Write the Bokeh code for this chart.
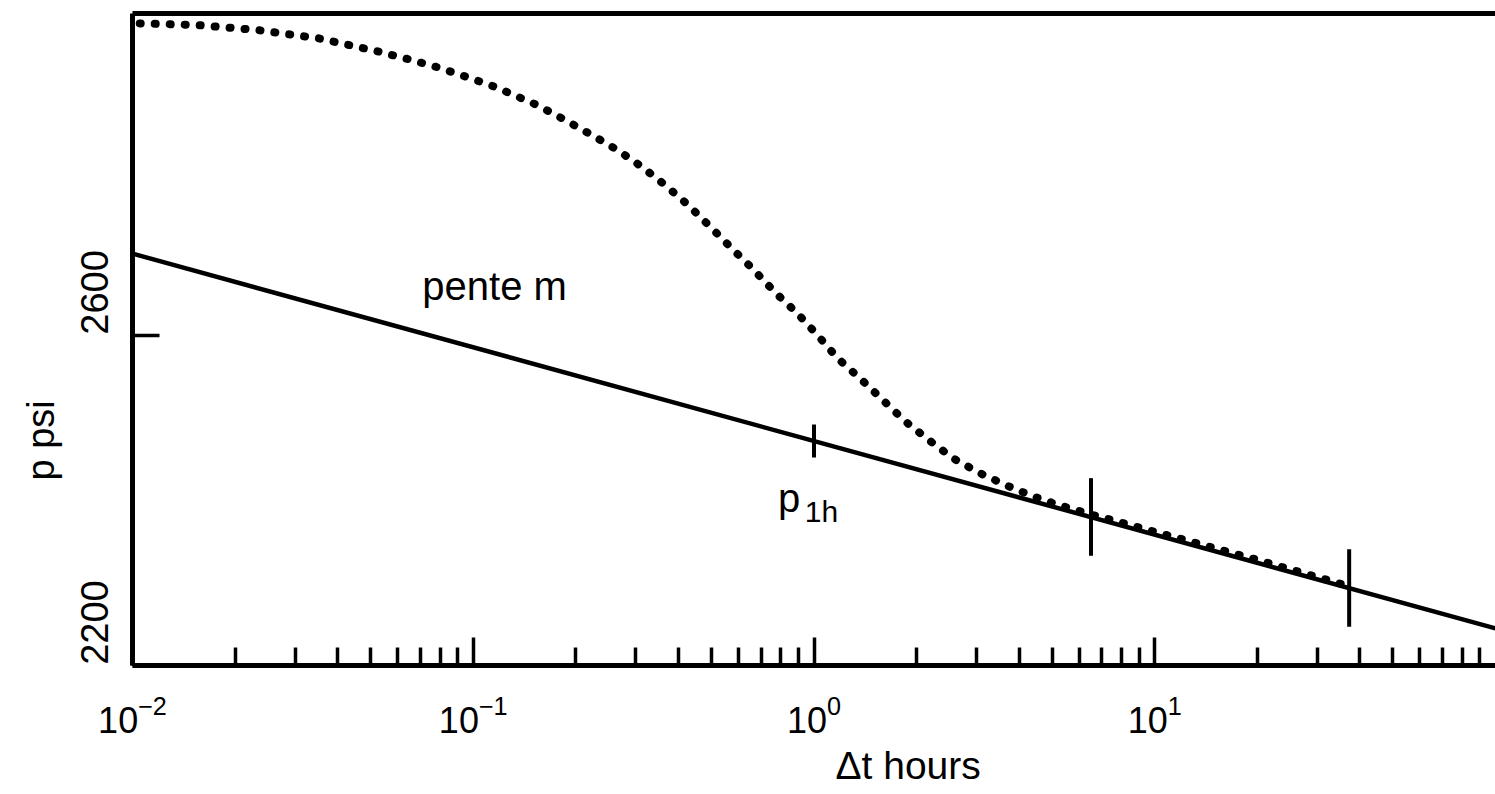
from bokeh.plotting import figure
from bokeh.models import FixedTicker, LogAxis, LinearAxis, Label, Title, Range1d
from bokeh.embed import file_html
from bokeh.resources import INLINE

# ---- data ----
curve_t = [0.0105, 0.0155, 0.0190, 0.0233, 0.0285, 0.0351, 0.0430, 0.0526, 0.0640,
           0.0783, 0.0959, 0.116, 0.154, 0.184, 0.220, 0.264, 0.313, 0.366, 0.427,
           0.495, 0.575, 0.663, 0.769, 0.892, 1.02, 1.175, 1.364, 1.58, 1.85, 2.16,
           2.56, 3.07, 3.68, 4.39, 5.26, 6.5, 10, 15, 20, 30, 38]
curve_p = [2978, 2976, 2973, 2970, 2965, 2960, 2952, 2944, 2935,
           2925, 2913, 2901, 2879, 2862, 2844, 2825, 2804, 2782, 2758,
           2732, 2705, 2680, 2652, 2627, 2601, 2572, 2548, 2523, 2496, 2474,
           2451, 2433, 2418, 2405, 2394, 2383, 2362, 2342, 2328, 2307, 2295]

line_t = [0.01, 100]
line_p = [2699, 2245]

mark_t = [1.0, 6.5, 37.2]
mark_p = [2472, 2380, 2294]
mark_half = [20, 47, 47]

x_major = [0.01, 0.1, 1, 10]
x_minor_mult = [2, 3, 4, 5, 6, 7, 8, 9]
y_ticks = [2200, 2600]

FONT = "Liberation Sans"

x_minor = [m * d for d in x_major for m in x_minor_mult]
mark_lo = [p - h for p, h in zip(mark_p, mark_half)]
mark_hi = [p + h for p, h in zip(mark_p, mark_half)]

Y0, Y1 = 2200, 2990
p = figure(width=1495, height=794, x_axis_type="log",
           x_range=(0.01, 100), y_range=(Y0, Y1),
           output_backend="svg", toolbar_location=None,
           min_border_left=132, min_border_right=0,
           min_border_top=13, min_border_bottom=129)
p.grid.visible = False
p.outline_line_color = None
p.background_fill_color = "white"
p.border_fill_color = "white"

# bottom axis
xa = p.xaxis[0]
xa.ticker = FixedTicker(ticks=x_major, minor_ticks=x_minor)
xa.axis_line_width = 5
xa.major_tick_in = 28
xa.major_tick_out = 0
xa.minor_tick_in = 18
xa.minor_tick_out = 0
xa.major_tick_line_width = 3.5
xa.minor_tick_line_width = 3.5
xa.major_label_text_font = FONT
xa.major_label_text_font_size = "36px"
xa.major_label_text_color = "black"
xa.major_label_standoff = 29

# left axis (line + tick)
ya = p.yaxis[0]
ya.ticker = FixedTicker(ticks=y_ticks, minor_ticks=[])
ya.axis_line_width = 5
ya.major_tick_in = 27
ya.major_tick_out = 0
ya.major_tick_line_width = 3.5
ya.minor_tick_line_color = None
ya.major_label_overrides = {t: "" for t in y_ticks}
ya.major_label_text_font_size = "1px"
ya.major_label_standoff = 0

# tick labels of the y axis, drawn (as in the original) just above their ticks
SHIFT = 52
p.extra_y_ranges = {"lbl": Range1d(start=Y0 - SHIFT, end=Y1 - SHIFT)}
ylab = LinearAxis(y_range_name="lbl", ticker=FixedTicker(ticks=y_ticks, minor_ticks=[]),
                  axis_line_color=None, major_tick_line_color=None,
                  minor_tick_line_color=None, major_label_orientation="vertical",
                  major_label_text_font=FONT, major_label_text_font_size="38px",
                  major_label_text_color="black", major_label_standoff=18)
p.add_layout(ylab, "left")

# y title
p.add_layout(Title(text="p psi", align="left", offset=185, text_font=FONT,
                   text_font_size="38px", text_font_style="normal",
                   text_color="black", standoff=34), "left")

# x title
p.add_layout(Title(text="\u0394t hours", align="left", offset=703, text_font=FONT,
                   text_font_size="39px", text_font_style="normal",
                   text_color="black", standoff=12), "below")

# top border line
top = LogAxis(ticker=FixedTicker(ticks=[], minor_ticks=[]), axis_line_width=5,
              major_tick_line_color=None, minor_tick_line_color=None)
p.add_layout(top, "above")

# straight semilog line
p.line(line_t, line_p, line_width=4.5, color="black")
# dotted measured curve
p.line(curve_t, curve_p, line_width=8, line_dash="1 14", line_cap="round", color="black")
# marks on the line
p.segment(x0=mark_t, y0=mark_lo, x1=mark_t, y1=mark_hi, line_width=4, color="black")

# annotations
p.add_layout(Label(x=0.0709, y=2660, text="pente m", text_align="left",
                   text_baseline="alphabetic", text_font=FONT,
                   text_font_size="40px", text_color="black"))
p.add_layout(Label(x=0.784, y=2403, text="p", text_align="left",
                   text_baseline="alphabetic", text_font=FONT,
                   text_font_size="40px", text_color="black"))
p.add_layout(Label(x=0.94, y=2387, text="1h", text_align="left",
                   text_baseline="alphabetic", text_font=FONT,
                   text_font_size="30px", text_color="black"))

open("out.html", "w").write(file_html(p, INLINE))
